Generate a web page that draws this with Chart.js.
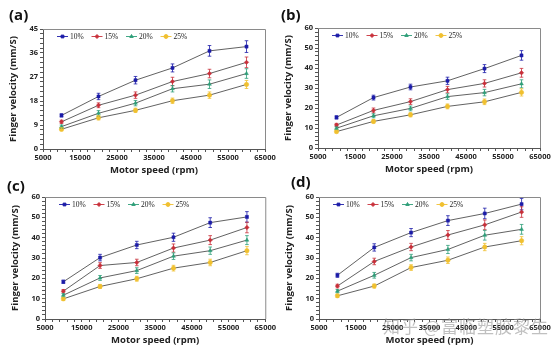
<!DOCTYPE html>
<html>
<head>
<meta charset="utf-8">
<script src="https://cdn.jsdelivr.net/npm/chart.js@4/dist/chart.umd.min.js"></script>
<style>
  html, body { margin: 0; padding: 0; background: #fff; }
  #page { position: relative; width: 555px; height: 352px; overflow: hidden; background: #fff; }
  .box { position: absolute; width: 277px; height: 176px; }
  .lbl { position: absolute; font: bold 15px "Open Sans", "Liberation Sans", sans-serif; color: #111; }
  #wm { position: absolute; left: 383px; top: 313px; font: 17px "Noto Sans CJK SC", sans-serif;
        color: rgba(150,150,150,0.6); letter-spacing: 1px; white-space: nowrap; }
</style>
</head>
<body>
<div id="page">
  <div class="box" style="left:0;top:0"><canvas id="ca"></canvas></div>
  <div class="box" style="left:275px;top:0"><canvas id="cb"></canvas></div>
  <div class="box" style="left:0;top:176px"><canvas id="cc"></canvas></div>
  <div class="box" style="left:275px;top:176px"><canvas id="cd"></canvas></div>
  <div class="lbl" style="left:9px;top:4px">(a)</div>
  <div class="lbl" style="left:281px;top:4px">(b)</div>
  <div class="lbl" style="left:7px;top:175px">(c)</div>
  <div class="lbl" style="left:291px;top:171px">(d)</div>
  <div id="wm">知乎 @富临塑胶黎生</div>
</div>
<script>
// motor speed (rpm)
const speeds = [10000, 20000, 30000, 40000, 50000, 60000];
const seriesNames = ['10%', '15%', '20%', '25%'];
const colors = ['#1c1ca8', '#c8303a', '#2e9e78', '#f0c030'];
const markers = ['rect', 'rectRot', 'triangle', 'circle'];

// (a)
const a10 = [12.6, 19.7, 25.8, 30.4, 36.8, 38.4];
const a15 = [10.2, 16.4, 20.2, 25.3, 28.3, 32.5];
const a20 = [8.4, 13.4, 17.2, 22.6, 24.3, 28.3];
const a25 = [7.4, 11.7, 14.5, 18.1, 20.2, 24.2];
const aErr10 = [0.6, 1.2, 1.4, 1.5, 2.0, 2.2];
const aErr15 = [0.6, 0.9, 1.2, 1.6, 1.6, 2.0];
const aErr20 = [0.6, 1.0, 1.0, 1.2, 1.6, 1.8];
const aErr25 = [0.6, 0.8, 0.8, 1.0, 1.2, 1.5];

// (b)
const b10 = [15.3, 25.2, 30.5, 33.6, 39.7, 46.3];
const b15 = [11.5, 18.8, 23.2, 29.2, 32.3, 37.6];
const b20 = [9.9, 16.1, 19.8, 25.7, 27.7, 32.1];
const b25 = [8.2, 13.3, 16.6, 20.8, 23.1, 27.8];
const bErr10 = [0.8, 1.2, 1.4, 1.8, 2.0, 2.4];
const bErr15 = [0.8, 1.2, 1.4, 1.6, 1.8, 2.2];
const bErr20 = [0.7, 1.0, 1.2, 1.4, 1.6, 2.0];
const bErr25 = [0.7, 0.9, 1.0, 1.2, 1.4, 1.8];

// (c)
const c10 = [18.3, 30.2, 36.4, 40.2, 47.4, 50.2];
const c15 = [13.7, 26.3, 27.8, 34.9, 38.8, 45.0];
const c20 = [11.7, 20.2, 23.8, 30.9, 33.6, 38.8];
const c25 = [9.9, 16.0, 19.8, 25.0, 27.8, 33.6];
const cErr10 = [0.8, 1.6, 1.8, 2.0, 2.4, 2.6];
const cErr15 = [0.8, 1.4, 1.6, 2.0, 2.2, 2.6];
const cErr20 = [0.8, 1.2, 1.4, 1.6, 1.8, 2.2];
const cErr25 = [0.8, 1.0, 1.2, 1.4, 1.6, 2.0];

// (d)
const d10 = [21.5, 35.2, 42.5, 48.4, 51.9, 56.5];
const d15 = [16.2, 28.3, 35.4, 41.3, 46.3, 52.6];
const d20 = [13.7, 21.5, 30.2, 34.2, 41.2, 44.1];
const d25 = [11.4, 16.2, 25.3, 28.9, 35.4, 38.5];
const dErr10 = [1.0, 1.8, 2.0, 2.4, 2.6, 2.8];
const dErr15 = [0.9, 1.6, 1.8, 2.2, 2.4, 2.6];
const dErr20 = [0.8, 1.4, 1.6, 2.0, 2.4, 2.4];
const dErr25 = [0.8, 1.0, 1.4, 1.6, 1.8, 2.0];

const tickFont = { family: '"Open Sans", "Liberation Sans", sans-serif', size: 7.5, weight: 'bold' };
const titleFont = { family: '"Open Sans", "Liberation Sans", sans-serif', size: 9.5, weight: 'bold' };

// error bars drawn from each dataset's err array
const errorBars = {
  id: 'errorBars',
  afterDatasetsDraw(chart) {
    const ctx = chart.ctx, y = chart.scales.y;
    chart.data.datasets.forEach((ds, i) => {
      const meta = chart.getDatasetMeta(i);
      ctx.save();
      ctx.strokeStyle = ds.pointBackgroundColor;
      ctx.lineWidth = 0.8;
      meta.data.forEach((pt, j) => {
        const v = ds.data[j].y, e = ds.err[j];
        const y1 = y.getPixelForValue(v + e), y2 = y.getPixelForValue(v - e);
        ctx.beginPath();
        ctx.moveTo(pt.x, y1); ctx.lineTo(pt.x, y2);
        ctx.moveTo(pt.x - 1.8, y1); ctx.lineTo(pt.x + 1.8, y1);
        ctx.moveTo(pt.x - 1.8, y2); ctx.lineTo(pt.x + 1.8, y2);
        ctx.stroke();
      });
      ctx.restore();
    });
  }
};

// plot area box + legend inside the plot
const frameLegend = {
  id: 'frameLegend',
  beforeDatasetsDraw(chart) {
    const { ctx, chartArea: a } = chart;
    ctx.save();
    ctx.strokeStyle = '#8a8a8a';
    ctx.lineWidth = 1;
    ctx.beginPath();
    ctx.moveTo(a.left, a.top + 0.5); ctx.lineTo(a.right + 0.5, a.top + 0.5); ctx.lineTo(a.right + 0.5, a.bottom);
    ctx.stroke();
    ctx.restore();
  },
  afterDraw(chart) {
    const { ctx, chartArea: a } = chart;
    ctx.save();
    ctx.font = '7.5px "Liberation Serif", serif';
    ctx.textBaseline = 'middle';
    const y = a.top + 7.5;
    chart.data.datasets.forEach((ds, i) => {
      const x = a.left + 14 + i * 34.5;
      ctx.strokeStyle = ds.pointBackgroundColor;
      ctx.lineWidth = 0.9;
      ctx.beginPath(); ctx.moveTo(x, y); ctx.lineTo(x + 11, y); ctx.stroke();
      ctx.fillStyle = ds.pointBackgroundColor;
      Chart.helpers.drawPoint(ctx, { pointStyle: ds.pointStyle, radius: 2, borderWidth: 0.5 }, x + 5.5, y);
      ctx.fillStyle = '#222';
      ctx.fillText(ds.label, x + 13, y + 0.5);
    });
    ctx.restore();
  }
};

function makeChart(id, series, errs, yMax, yStep, yMinor, pad) {
  const datasets = series.map((vals, i) => ({
    label: seriesNames[i],
    data: speeds.map((s, j) => ({ x: s, y: vals[j] })),
    err: errs[i],
    borderColor: '#3a3a3a',
    borderWidth: 0.8,
    pointStyle: markers[i],
    pointRadius: 2.2,
    pointBackgroundColor: colors[i],
    pointBorderColor: colors[i],
    pointBorderWidth: 0.5,
    tension: 0
  }));
  return new Chart(document.getElementById(id), {
    type: 'line',
    data: { datasets },
    options: {
      responsive: false,
      animation: false,
      devicePixelRatio: 1,
      layout: { padding: pad },
      plugins: { legend: { display: false }, tooltip: { enabled: false } },
      scales: {
        x: {
          type: 'linear', min: 5000, max: 65000,
          afterBuildTicks: s => {
            const t = [];
            for (let v = 5000; v <= 65000; v += 2000) t.push({ value: v });
            s.ticks = t;
          },
          ticks: {
            autoSkip: false, maxRotation: 0, color: '#222', font: tickFont, padding: 1,
            callback: v => ((v - 5000) % 10000 === 0 ? String(v) : '')
          },
          grid: { drawOnChartArea: false, tickLength: 3, color: '#555', tickColor: '#555' },
          border: { color: '#555', width: 1 },
          title: { display: true, text: 'Motor speed (rpm)', color: '#222', font: titleFont, padding: { top: 2, bottom: 0 } },
          afterFit: s => { s.height = 27; }
        },
        y: {
          min: 0, max: yMax,
          afterBuildTicks: s => {
            const t = [];
            for (let k = 0; k * yMinor <= yMax + 1e-6; k++) t.push({ value: +(k * yMinor).toFixed(3) });
            s.ticks = t;
          },
          ticks: {
            autoSkip: false, color: '#222', font: tickFont, padding: 2,
            callback: v => (Math.abs(v / yStep - Math.round(v / yStep)) < 1e-6 ? String(Math.round(v)) : '')
          },
          grid: { drawOnChartArea: false, tickLength: 3, color: '#555', tickColor: '#555' },
          border: { color: '#555', width: 1 },
          title: { display: true, text: 'Finger velocity (mm/S)', color: '#222', font: titleFont, padding: { top: 0, bottom: 3 } },
          afterFit: s => { s.width = 35; }
        }
      }
    },
    plugins: [frameLegend, errorBars]
  });
}

function sizeCanvas(id, w, h) {
  const c = document.getElementById(id);
  c.width = w; c.height = h;
  c.style.width = w + 'px'; c.style.height = h + 'px';
}
['ca', 'cb', 'cc', 'cd'].forEach(id => sizeCanvas(id, 277, 176));

makeChart('ca', [a10, a15, a20, a25], [aErr10, aErr15, aErr20, aErr25], 45, 9, 1.8,
  { left: 8, right: 12, top: 29, bottom: 0 });
makeChart('cb', [b10, b15, b20, b25], [bErr10, bErr15, bErr20, bErr25], 60, 10, 2,
  { left: 8, right: 12, top: 28, bottom: 1 });
makeChart('cc', [c10, c15, c20, c25], [cErr10, cErr15, cErr20, cErr25], 60, 10, 2,
  { left: 10, right: 10, top: 21, bottom: 6 });
makeChart('cd', [d10, d15, d20, d25], [dErr10, dErr15, dErr20, dErr25], 60, 10, 2,
  { left: 9, right: 12, top: 21, bottom: 6 });
</script>
</body>
</html>
